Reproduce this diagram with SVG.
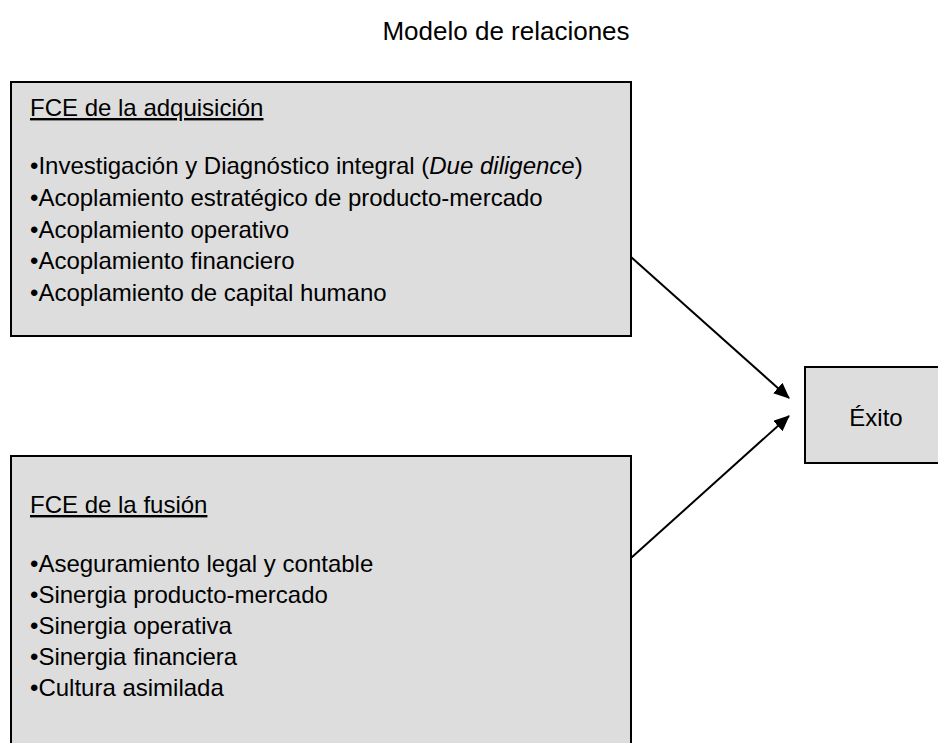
<svg xmlns="http://www.w3.org/2000/svg" width="938" height="743" viewBox="0 0 938 743">
<defs>
<style>
.box{fill:#dddddd;stroke:#000;stroke-width:2}
.t{font-family:"Liberation Sans",Arial,sans-serif;font-size:24px;fill:#000}
.h{text-decoration:underline}
.edge{stroke:#000;stroke-width:2;fill:none;marker-end:url(#ah)}
</style>
<marker id="ah" markerWidth="16" markerHeight="14" refX="15" refY="7" orient="auto" markerUnits="userSpaceOnUse">
<path d="M0,0 L16,7 L0,14 Z" fill="#000"/>
</marker>
</defs>
<rect width="938" height="743" fill="#fff"/>
<text class="t" x="506" y="40" text-anchor="middle" style="font-size:26px">Modelo de relaciones</text>
<g id="adquisicion">
<rect class="box" x="11" y="82" width="620" height="254"/>
<text class="t h" x="30" y="116">FCE de la adquisición</text>
<text class="t" x="30" y="174">•Investigación y Diagnóstico integral (<tspan font-style="italic">Due diligence</tspan>)</text>
<text class="t" x="30" y="205.75">•Acoplamiento estratégico de producto-mercado</text>
<text class="t" x="30" y="237.5">•Acoplamiento operativo</text>
<text class="t" x="30" y="269.25">•Acoplamiento financiero</text>
<text class="t" x="30" y="301">•Acoplamiento de capital humano</text>
</g>
<g id="fusion">
<rect class="box" x="11" y="456" width="620" height="300"/>
<text class="t h" x="30" y="513">FCE de la fusión</text>
<text class="t" x="30" y="572">•Aseguramiento legal y contable</text>
<text class="t" x="30" y="603">•Sinergia producto-mercado</text>
<text class="t" x="30" y="634">•Sinergia operativa</text>
<text class="t" x="30" y="665">•Sinergia financiera</text>
<text class="t" x="30" y="696">•Cultura asimilada</text>
</g>
<g id="exito">
<rect class="box" x="805" y="367" width="145" height="96"/>
<text class="t" x="876" y="426" text-anchor="middle">Éxito</text>
</g>
<g id="connectors">
<line class="edge" x1="631" y1="257" x2="789" y2="398"/>
<line class="edge" x1="631" y1="558" x2="789" y2="416"/>
</g>
</svg>
